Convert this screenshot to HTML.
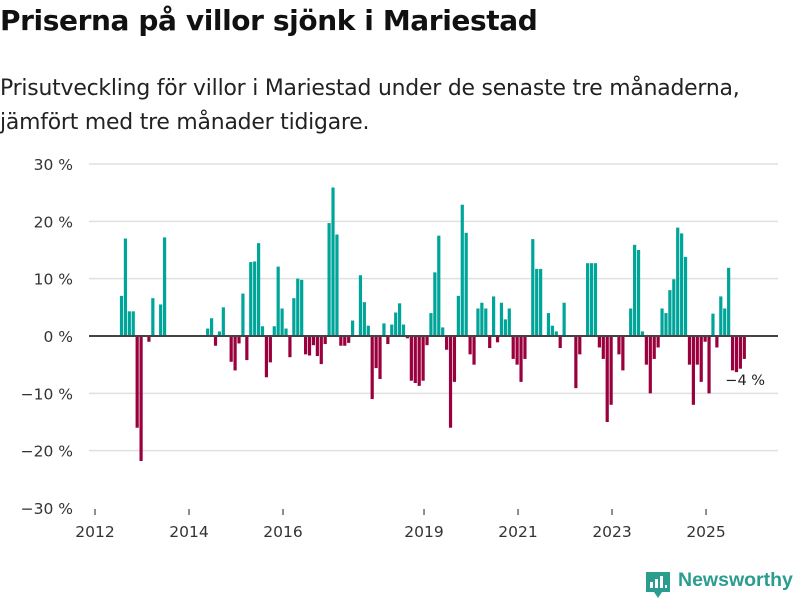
<!DOCTYPE html>
<html><head><meta charset="utf-8">
<style>
body{margin:0;background:#fff;width:800px;height:600px;overflow:hidden;font-family:"DejaVu Sans","Liberation Sans",sans-serif;}
h1{position:absolute;left:0;top:4px;margin:0;font-size:28px;font-weight:bold;color:#111;letter-spacing:-0.4px;white-space:nowrap}
p.sub{position:absolute;left:0;top:72px;margin:0;font-size:21.9px;line-height:34px;color:#222;white-space:nowrap;letter-spacing:-0.2px}
svg{position:absolute;left:0;top:0}
.brand{position:absolute;left:678px;top:569px;font-family:"Liberation Sans",sans-serif;font-size:19.5px;font-weight:bold;color:#2a9d8f;white-space:nowrap}
</style></head><body>
<h1>Priserna på villor sjönk i Mariestad</h1>
<p class="sub">Prisutveckling för villor i Mariestad under de senaste tre månaderna,<br>jämfört med tre månader tidigare.</p>
<svg id="chart" width="800" height="600"></svg>
<svg width="800" height="600" style="pointer-events:none">
<path d="M646 572 h24 v20 h-8 l-4 6 l-4 -6 h-8 z" fill="#2a9d8f"/>
<rect x="650" y="582" width="3" height="6" fill="#fff"/><rect x="655" y="579" width="3" height="9" fill="#fff"/><rect x="660" y="576" width="3" height="12" fill="#fff"/><rect x="665" y="585" width="2" height="3" fill="#fff"/>
</svg>
<div class="brand">Newsworthy</div>
<script>
const yTicks=[30,20,10,0,-10,-20,-30];
const yTickLabels=["30 %","20 %","10 %","0 %","−10 %","−20 %","−30 %"];
const xTickYears=[2012,2014,2016,2019,2021,2023,2025];
const startMonth=6; // first bar: months after Jan 2012
const values=[7,17,4.3,4.3,-16,-21.8,null,-1,6.6,null,5.5,17.2,
null,null,null,null,null,null,null,null,null,null,
1.3,3.1,-1.7,0.8,5,null,-4.5,-6,-1.3,7.4,-4.2,12.9,13,16.2,1.7,-7.2,
-4.6,1.7,12.1,4.8,1.3,-3.7,6.6,10,9.8,-3.2,-3.4,-1.6,-3.5,-4.9,-1.4,19.7,25.9,17.7,-1.7,-1.7,-1.2,2.7,
null,10.6,5.9,1.8,-11,-5.6,-7.5,2.2,-1.4,2,4.1,5.7,2,-0.4,-7.8,-8.2,-8.7,-7.8,-1.6,4,11.1,17.5,
1.5,-2.4,-16,-8,7,22.9,18,-3.2,-5,4.8,5.8,4.8,-2.1,6.9,-1.1,5.8,2.9,4.8,-4,-5,-8,-4,
null,16.9,11.7,11.7,null,4,1.8,0.8,-2.1,5.8,null,null,-9.1,-3.2,null,12.7,12.7,12.7,-2,-4,-15,
-12,null,-3.2,-6,null,4.8,15.9,15,0.8,-5,-10,-4,-2,4.8,4,8,9.9,18.9,17.9,13.8,
-5,-12,-5,-8,-1,-10,3.9,-2,6.9,4.8,11.9,-6,-6.3,-5.7,-4];
const lastLabel="−4 %";
const NS="http://www.w3.org/2000/svg";
const svg=document.getElementById('chart');
const X0=89,X1=778;
function y(v){return 336-v*5.733;}
function xm(m){return 95+m*3.917;}
function mk(t,a){const e=document.createElementNS(NS,t);for(const k in a)e.setAttribute(k,a[k]);svg.appendChild(e);return e;}
yTicks.forEach((v,i)=>{
  if(v!==0&&v!==-30){const g=mk('line',{x1:X0,x2:X1,y1:y(v),y2:y(v),stroke:'#e0e0e0','stroke-width':1.5});
  
  }
  const t=mk('text',{x:73,y:y(v)+6,'text-anchor':'end','font-size':15.5,fill:'#333'});
  t.textContent=yTickLabels[i];
  
  
});
values.forEach((v,i)=>{
  if(v===null)return;
  const x=xm(startMonth+i)+1.4;
  const r=mk('rect',{x:x,width:3.2,y:v>=0?y(v):y(0),height:Math.abs(y(v)-y(0)),fill:v>=0?'#00a59a':'#99003d'});
  
  
});
const z=mk('line',{x1:X0,x2:X1,y1:y(0),y2:y(0),stroke:'#444','stroke-width':2});


xTickYears.forEach(yr=>{
  const x=xm((yr-2012)*12);
  const tk=mk('line',{x1:x,x2:x,y1:509,y2:515,stroke:'#444','stroke-width':1.2});
  
  
  const t=mk('text',{x:x,y:537,'text-anchor':'middle','font-size':15.5,fill:'#333'});
  t.textContent=yr;
  
  
});
const li=values.length-1;
const lt=mk('text',{x:xm(startMonth+li)-16,y:y(values[li])+26,'font-size':14.5,fill:'#222'});
lt.textContent=lastLabel;


</script>
</body></html>
